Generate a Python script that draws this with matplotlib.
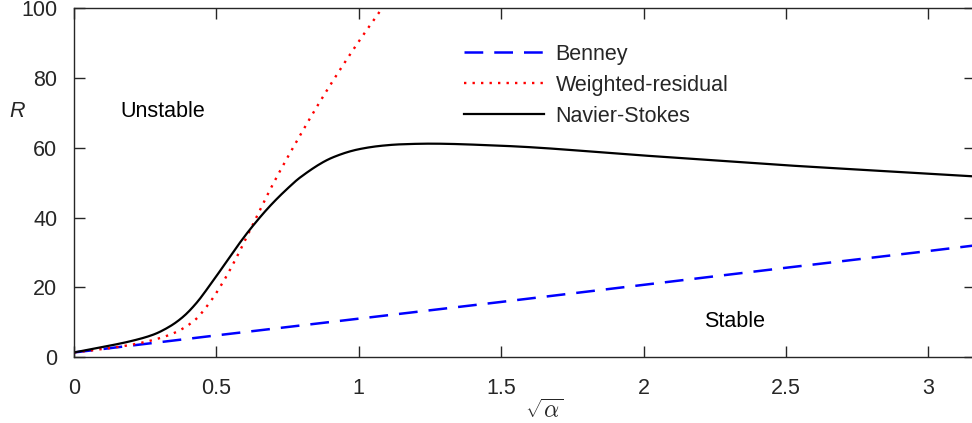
import numpy as np
import matplotlib
matplotlib.use('Agg')
import matplotlib.pyplot as plt

plt.rcParams['font.family'] = ['Liberation Sans', 'DejaVu Sans']
plt.rcParams['mathtext.fontset'] = 'cm'

# valores: x = sqrt(alpha), R critico
x_benney = [0.0, 0.5, 1.0, 1.5, 2.0, 2.5, 3.0, 3.1623]
r_benney = [1.3, 6.2, 11.0, 15.8, 20.7, 25.6, 30.4, 32.0]

x_wr = [0.0, 0.103, 0.22, 0.337, 0.419, 0.478, 0.524, 0.571, 0.606, 0.653,
        0.70, 0.794, 0.864, 0.934, 1.004, 1.084, 1.12]
r_wr = [1.3, 2.3, 3.8, 6.4, 10.2, 15.8, 21.6, 28.6, 34.4, 42.2,
        49.8, 63.6, 73.3, 82.4, 91.0, 100.3, 104.5]

x_ns = [0.0, 0.103, 0.197, 0.278, 0.337, 0.384, 0.43, 0.478, 0.524, 0.571,
        0.618, 0.688, 0.752, 0.794, 0.91, 1.0, 1.08, 1.145, 1.25, 1.5,
        2.0, 2.5, 3.0, 3.1623]
r_ns = [1.3, 2.9, 4.5, 6.4, 8.8, 11.6, 15.5, 20.7, 26.0, 31.5,
        36.6, 43.3, 48.5, 51.5, 57.3, 59.6, 60.6, 61.0, 61.2, 60.6,
        57.8, 55.0, 52.6, 51.8]

xticks = [0, 0.5, 1, 1.5, 2, 2.5, 3]
xticklabels = ['0', '0.5', '1', '1.5', '2', '2.5', '3']
yticks = [0, 20, 40, 60, 80, 100]

gris = '#262626'
fs = 15.5

#interpolacion monotona (pchip) para que las curvas salgan suaves
def pchip(xs, ys, n=500):
    xs = np.array(xs, float); ys = np.array(ys, float)
    h = np.diff(xs); d = np.diff(ys)/h
    m = np.zeros_like(ys)
    for i in range(1, len(xs)-1):
        if d[i-1]*d[i] > 0:
            w1 = 2*h[i] + h[i-1]; w2 = h[i] + 2*h[i-1]
            m[i] = (w1 + w2)/(w1/d[i-1] + w2/d[i])
    m[0] = d[0]; m[-1] = d[-1]
    xx = np.linspace(xs[0], xs[-1], n)
    k = np.clip(np.searchsorted(xs, xx) - 1, 0, len(xs)-2)
    t = (xx - xs[k])/h[k]
    h00 = 2*t**3 - 3*t**2 + 1; h10 = t**3 - 2*t**2 + t
    h01 = -2*t**3 + 3*t**2; h11 = t**3 - t**2
    yy = h00*ys[k] + h10*h[k]*m[k] + h01*ys[k+1] + h11*h[k]*m[k+1]
    return xx, yy

fig = plt.figure(figsize=(9.72, 4.23), dpi=100)
ax = fig.add_axes([74/972, 66/423, 900.6/972, 348.6/423])

ax.plot(x_benney, r_benney, color='blue', lw=1.8, dashes=(7.5, 4.4), label='Benney')
xw, yw = pchip(x_wr, r_wr)
ax.plot(xw, yw, color='red', lw=1.7, dashes=(1, 2.6), label='Weighted-residual')
xn, yn = pchip(x_ns, r_ns)
ax.plot(xn, yn, color='black', lw=1.6, label='Navier-Stokes')

ax.set_xlim(0, np.sqrt(10))
ax.set_ylim(0, 100)
ax.set_xticks(xticks)
ax.set_xticklabels(xticklabels)
ax.set_yticks(yticks)
ax.tick_params(direction='in', length=8, width=1, colors=gris, labelsize=fs,
               top=True, right=True)
ax.tick_params(axis='x', pad=15)
ax.tick_params(axis='y', pad=12)
for s in ax.spines.values():
    s.set_color(gris)
    s.set_linewidth(1)

ax.set_xlabel(r'$\sqrt{\alpha}$', fontsize=fs+1.5, color=gris, va='center')
ax.xaxis.set_label_coords(0.522, -0.155)
ax.set_ylabel('R', fontsize=fs, style='italic', rotation=0, color=gris, va='center', ha='center')
ax.yaxis.set_label_coords(-0.063, 0.7045)

ax.text(0.312, 70.4, 'Unstable', fontsize=fs, ha='center', va='center')
ax.text(2.32, 10.2, 'Stable', fontsize=fs, ha='center', va='center')

leg = ax.legend(loc='upper left', bbox_to_anchor=(0.433, 0.899), frameon=False,
                fontsize=fs, handlelength=3.7, handletextpad=0.55,
                labelspacing=0.47, borderpad=0, borderaxespad=0)
for t in leg.get_texts():
    t.set_color(gris)

fig.savefig('out.png', dpi=100)
